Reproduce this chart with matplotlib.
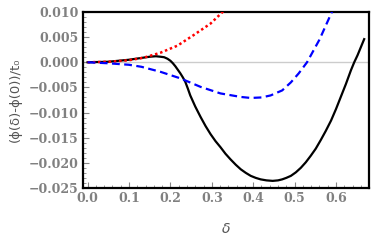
import matplotlib.pyplot as plt
import numpy as np
from matplotlib.ticker import MultipleLocator

# values
delta_red = [0.0, 0.05, 0.10, 0.135, 0.176, 0.217, 0.256, 0.297, 0.326, 0.34]
phi_red = [0.0, 0.0001, 0.0004, 0.0009, 0.0019, 0.0033, 0.0054, 0.0077, 0.0100, 0.0112]

delta_blue = [0.0, 0.05, 0.10, 0.13, 0.176, 0.224, 0.273, 0.321, 0.37, 0.394, 0.42,
              0.442, 0.47, 0.491, 0.51, 0.53, 0.56, 0.59, 0.60]
phi_blue = [0.0, -0.0002, -0.0005, -0.0009, -0.0019, -0.0032, -0.0049, -0.0062, -0.0069,
            -0.0071, -0.0070, -0.0066, -0.0056, -0.0040, -0.0022, 0.0, 0.0045, 0.0100, 0.0118]

delta_black = [0.0, 0.05, 0.10, 0.125, 0.15, 0.165, 0.176, 0.185, 0.193, 0.20, 0.206, 0.212,
               0.218, 0.224, 0.230, 0.236, 0.242, 0.248, 0.26, 0.273, 0.285, 0.297, 0.309,
               0.321, 0.333, 0.345, 0.358, 0.370, 0.382, 0.394, 0.406, 0.418, 0.432, 0.447,
               0.46, 0.47, 0.48, 0.491, 0.503, 0.515, 0.527, 0.539, 0.551, 0.563, 0.575,
               0.588, 0.600, 0.612, 0.624, 0.636, 0.644, 0.652, 0.660, 0.668]
phi_black = [0.0, 0.0001, 0.0005, 0.0008, 0.0011, 0.0012, 0.0011, 0.0010, 0.0007, 0.0003,
             -0.0002, -0.0008, -0.0015, -0.0022, -0.0030, -0.0039, -0.0052, -0.0066,
             -0.0088, -0.0109, -0.0127, -0.0143, -0.0157, -0.0169, -0.0182, -0.0193,
             -0.0204, -0.0213, -0.0220, -0.0226, -0.0230, -0.0233, -0.0235, -0.0236,
             -0.0235, -0.0233, -0.0230, -0.0226, -0.0219, -0.0210, -0.0199, -0.0186,
             -0.0172, -0.0155, -0.0137, -0.0116, -0.0093, -0.0068, -0.0043, -0.0016,
             0.0000, 0.0014, 0.0030, 0.0046]

xticks = [0.0, 0.1, 0.2, 0.3, 0.4, 0.5, 0.6]
yticks = [0.010, 0.005, 0.000, -0.005, -0.010, -0.015, -0.020, -0.025]

fig = plt.figure(figsize=(3.74, 2.45), dpi=100)
ax = fig.add_axes([0.222, 0.233, 0.765, 0.718])

ax.axhline(0, color='#cccccc', lw=1.0, zorder=1)
ax.plot(delta_red, phi_red, color='red', lw=1.8, linestyle=(0, (1, 1.1)), zorder=3)
ax.plot(delta_blue, phi_blue, color='blue', lw=1.6, linestyle=(0, (3.5, 2)), zorder=3)
ax.plot(delta_black, phi_black, color='black', lw=1.6, zorder=2)

ax.set_xlim(-0.011, 0.68)
ax.set_ylim(-0.025, 0.010)
ax.set_xticks(xticks)
ax.set_yticks(yticks)
ax.set_xticklabels(["%.1f" % v for v in xticks])
ax.set_yticklabels(["%.3f" % v if v >= 0 else "\u2212%.3f" % -v for v in yticks])
ax.xaxis.set_minor_locator(MultipleLocator(0.02))
ax.yaxis.set_minor_locator(MultipleLocator(0.001))

for s in ax.spines.values():
    s.set_color('black')
    s.set_linewidth(1.6)

ax.tick_params(which='both', direction='in', color='#888888', top=False, right=False)
ax.tick_params(which='major', length=4, width=0.8, labelsize=9, labelcolor='#808080', pad=3)
ax.tick_params(which='minor', length=2, width=0.6)
for lab in ax.get_xticklabels() + ax.get_yticklabels():
    lab.set_family('DejaVu Serif')
    lab.set_fontweight('bold')

ax.set_xlabel("\u03b4", fontsize=10, color='#555555', style='italic', labelpad=12)
ax.set_ylabel("(\u03d5(\u03b4)-\u03d5(0))/t\u2080", fontsize=9.5, color='#555555', labelpad=5)

plt.savefig("out.png", dpi=100)
